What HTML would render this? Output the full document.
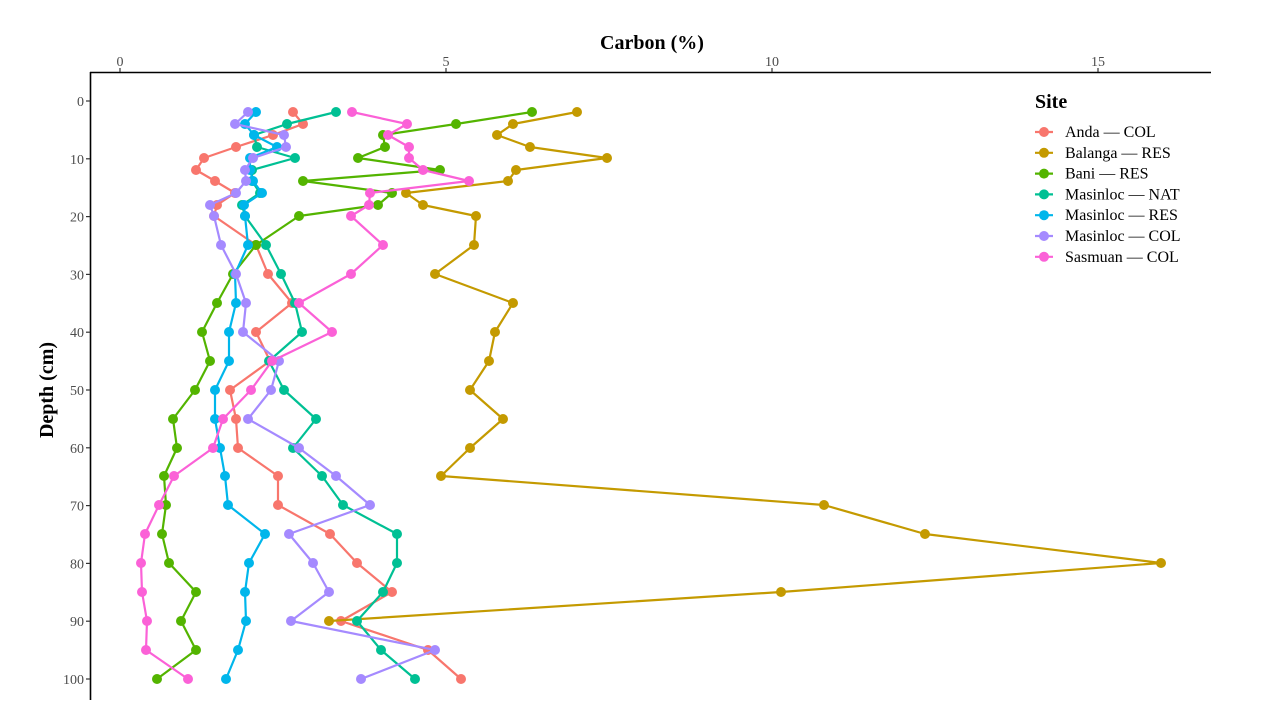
<!DOCTYPE html>
<html><head><meta charset="utf-8"><style>
html,body{margin:0;padding:0;background:#fff;}
svg{display:block;font-family:"Liberation Serif",serif;}
</style></head><body>
<svg id="s" width="1262" height="708" viewBox="0 0 1262 708" xmlns="http://www.w3.org/2000/svg">
<rect width="1262" height="708" fill="#fff"/>
<text x="652" y="49" font-size="20" font-weight="bold" text-anchor="middle" fill="#000">Carbon (%)</text>
<text transform="translate(53,390) rotate(-90)" font-size="20" font-weight="bold" text-anchor="middle" fill="#000">Depth (cm)</text>
<line x1="90" y1="72.5" x2="1211" y2="72.5" stroke="#000" stroke-width="1.6"/>
<line x1="90.5" y1="72" x2="90.5" y2="700" stroke="#000" stroke-width="1.6"/>
<g id="ticks" stroke="#333" stroke-width="1.2"></g>
<g id="tl" font-size="14" fill="#4d4d4d"></g>
<g id="plot"></g>
<text x="1035" y="108" font-size="20" font-weight="bold" fill="#000">Site</text>
<g id="leg" font-size="16" fill="#000"></g>
</svg>
<script>
var NS="http://www.w3.org/2000/svg";
function el(p,n,a,t){var e=document.createElementNS(NS,n);for(var k in a)e.setAttribute(k,a[k]);if(t!=null)e.textContent=t;document.getElementById(p).appendChild(e);return e;}
[[120,"0"],[446,"5"],[772,"10"],[1098,"15"]].forEach(function(t){el("ticks","line",{x1:t[0],y1:68,x2:t[0],y2:72});el("tl","text",{x:t[0],y:66,"text-anchor":"middle"},t[1]);});
for(var k=0;k<=10;k++){var y=101+57.8*k;el("ticks","line",{x1:86,y1:y,x2:90,y2:y});el("tl","text",{x:84,y:y+5,"text-anchor":"end"},String(k*10));}
var ys=[112,124,135,147,158,170,181,193,205,216,245,274,303,332,361,390,419,448,476,505,534,563,592,621,650,679];
var S=[
["Anda — COL","#F8766D",[293,303,273,236,204,196,215,235,217,214,256,268,292,256,270,230,236,238,278,278,330,357,392,341,428,461]],
["Balanga — RES","#C49A00",[577,513,497,530,607,516,508,406,423,476,474,435,513,495,489,470,503,470,441,824,925,1161,781,329]],
["Bani — RES","#53B400",[532,456,383,385,358,440,303,392,378,299,256,233,217,202,210,195,173,177,164,166,162,169,196,181,196,157]],
["Masinloc — NAT","#00C094",[336,287,254,257,295,252,252,260,242,245,266,281,295,302,269,284,316,293,322,343,397,397,383,357,381,415]],
["Masinloc — RES","#00B6EB",[256,245,254,277,250,250,253,262,244,245,248,235,236,229,229,215,215,220,225,228,265,249,245,246,238,226]],
["Masinloc — COL","#A58AFF",[248,235,284,286,253,245,246,236,210,214,221,236,246,243,279,271,248,299,336,370,289,313,329,291,435,361]],
["Sasmuan — COL","#FB61D7",[352,407,388,409,409,423,469,370,369,351,383,351,299,332,272,251,223,213,174,159,145,141,142,147,146,188]]
];
S.forEach(function(s,i){
 var pts=s[2].map(function(x,j){return x+","+ys[j];}).join(" ");
 el("plot","polyline",{points:pts,fill:"none",stroke:s[1],"stroke-width":2.2,"stroke-linejoin":"round"});
 s[2].forEach(function(x,j){el("plot","circle",{cx:x,cy:ys[j],r:5,fill:s[1]});});
 var ly=132+20.8*i;
 el("leg","line",{x1:1035,y1:ly,x2:1053,y2:ly,stroke:s[1],"stroke-width":2.2});
 el("leg","circle",{cx:1044,cy:ly,r:5,fill:s[1]});
 el("leg","text",{x:1065,y:ly+5},s[0]);
});
</script>
</body></html>
